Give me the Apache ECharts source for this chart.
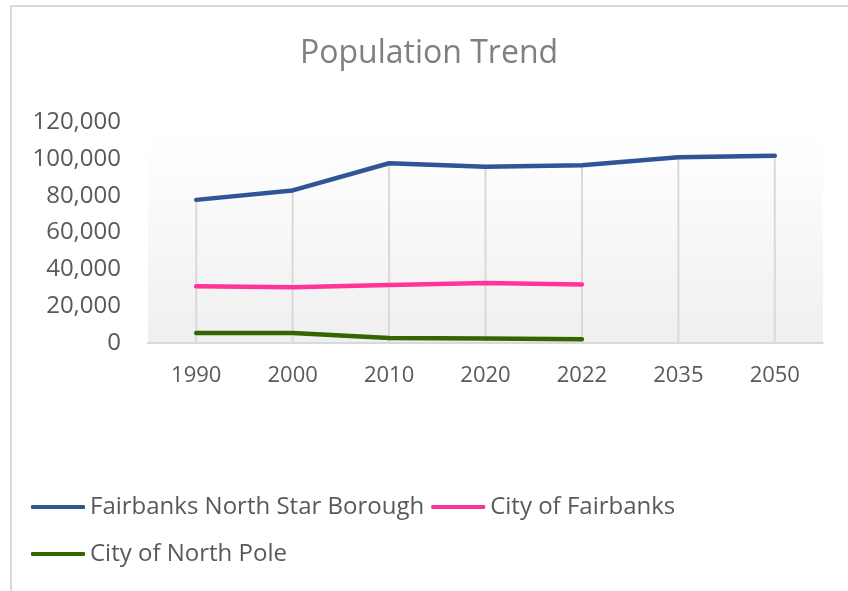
<!DOCTYPE html>
<html>
<head>
<meta charset="utf-8">
<script src="https://cdn.jsdelivr.net/npm/echarts@6/dist/echarts.min.js"></script>
<style>
  html, body { margin: 0; padding: 0; background: #ffffff; }
  #frame {
    position: absolute; left: 10px; top: 5px; width: 900px; height: 700px;
    border-top: 2px solid #d9d9d9; border-left: 2px solid #d9d9d9;
  }
  #chart { position: absolute; left: 0; top: 0; width: 848px; height: 591px; }
</style>
</head>
<body>
<div id="frame"></div>
<div id="chart"></div>
<script>
// Years on the category axis
const years = ['1990', '2000', '2010', '2020', '2022', '2035', '2050'];

// Population series
const boroughName = 'Fairbanks North Star Borough';
const boroughPop = [77720, 82840, 97581, 95655, 96500, 100800, 101700];

const fairbanksName = 'City of Fairbanks';
const fairbanksPop = [30843, 30224, 31535, 32515, 31800];

const northPoleName = 'City of North Pole';
const northPolePop = [5400, 5400, 2700, 2500, 2000];

// Value axis ticks
const yMin = 0;
const yMax = 120000;
const yStep = 20000;

// Drop lines run from the highest value in each year down to the axis
const allSeries = [boroughPop, fairbanksPop, northPolePop];
const dropTops = years.map((_, i) => {
  const vals = allSeries.map(s => s[i]).filter(v => v != null);
  return vals.length ? Math.max(...vals) : null;
});

const font = '"Open Sans", "Noto Sans", sans-serif';

const chart = echarts.init(document.getElementById('chart'), null, { renderer: 'canvas' });

const lineStyleFor = color => ({ color: color, width: 4.5, cap: 'round', join: 'round' });

chart.setOption({
  animation: false,
  backgroundColor: 'transparent',
  title: {
    text: 'Population Trend',
    left: 295,
    top: 30,
    padding: 5,
    textStyle: { fontFamily: font, fontSize: 32, fontWeight: 'normal', color: '#808080', lineHeight: 38 }
  },
  legend: {
    data: [boroughName, fairbanksName, northPoleName],
    left: 31,
    top: 487,
    padding: 0,
    itemWidth: 54,
    itemHeight: 4,
    itemGap: 7,
    icon: 'roundRect',
    textStyle: { fontFamily: font, fontSize: 24, color: '#595959', lineHeight: 40 }
  },
  grid: {
    left: 148,
    right: 25,
    top: 122,
    bottom: 248,
    show: true,
    borderWidth: 0,
    backgroundColor: {
      type: 'linear', x: 0, y: 0, x2: 0, y2: 1,
      colorStops: [
        { offset: 0, color: '#ffffff' },
        { offset: 0.13, color: '#fefefe' },
        { offset: 1, color: '#efefef' }
      ]
    }
  },
  xAxis: {
    type: 'category',
    data: years,
    boundaryGap: true,
    axisLine: { show: true, lineStyle: { color: '#d9d9d9', width: 2 } },
    axisTick: { show: false },
    splitLine: { show: false },
    axisLabel: { fontFamily: font, fontSize: 22, color: '#595959', margin: 22 }
  },
  yAxis: {
    type: 'value',
    min: yMin,
    max: yMax,
    interval: yStep,
    axisLine: { show: false },
    axisTick: { show: false },
    splitLine: { show: false },
    axisLabel: {
      fontFamily: font, fontSize: 24, color: '#595959', margin: 27,
      formatter: v => v.toLocaleString('en-US')
    }
  },
  series: [
    {
      name: 'drop',
      type: 'bar',
      data: dropTops,
      barWidth: 2,
      itemStyle: { color: '#d9d9d9' },
      z: 1,
      silent: true
    },
    {
      name: boroughName,
      type: 'line',
      data: boroughPop,
      symbol: 'none',
      lineStyle: lineStyleFor('#2f5597'),
      itemStyle: { color: '#2f5597' },
      z: 3
    },
    {
      name: fairbanksName,
      type: 'line',
      data: fairbanksPop,
      symbol: 'none',
      lineStyle: lineStyleFor('#ff3399'),
      itemStyle: { color: '#ff3399' },
      z: 3
    },
    {
      name: northPoleName,
      type: 'line',
      data: northPolePop,
      symbol: 'none',
      lineStyle: lineStyleFor('#336600'),
      itemStyle: { color: '#336600' },
      z: 3
    }
  ]
});
</script>
</body>
</html>
